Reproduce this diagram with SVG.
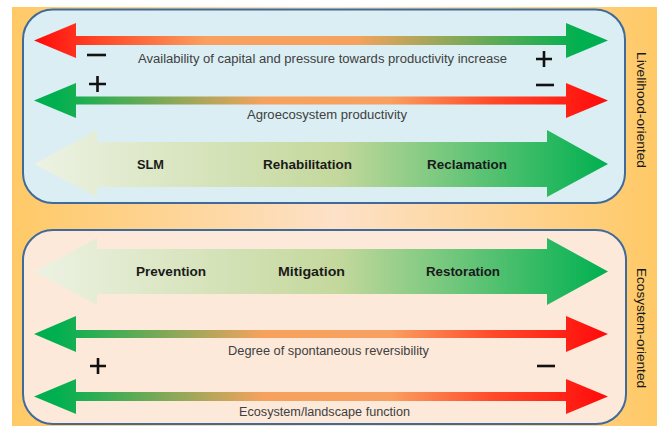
<svg xmlns="http://www.w3.org/2000/svg" width="657" height="426" viewBox="0 0 657 426">
<defs>
<linearGradient id="bg" x1="12" y1="0" x2="657" y2="0" gradientUnits="userSpaceOnUse">
<stop offset="0" stop-color="#FFC966"/>
<stop offset="0.5" stop-color="#FDE1C8"/>
<stop offset="1" stop-color="#FFC966"/>
</linearGradient>
<linearGradient id="rg" x1="34" y1="0" x2="608" y2="0" gradientUnits="userSpaceOnUse">
<stop offset="0" stop-color="#FF0A0A"/>
<stop offset="0.12" stop-color="#FF4A2A"/>
<stop offset="0.3" stop-color="#F9A060"/>
<stop offset="0.56" stop-color="#F6A25E"/>
<stop offset="0.95" stop-color="#00B050"/>
</linearGradient>
<linearGradient id="gr" x1="34" y1="0" x2="608" y2="0" gradientUnits="userSpaceOnUse">
<stop offset="0.04" stop-color="#00B050"/>
<stop offset="0.4" stop-color="#F6A25E"/>
<stop offset="0.62" stop-color="#F9A060"/>
<stop offset="0.8" stop-color="#FF4A2A"/>
<stop offset="1" stop-color="#FF0A0A"/>
</linearGradient>
<linearGradient id="big" x1="34" y1="0" x2="608" y2="0" gradientUnits="userSpaceOnUse">
<stop offset="0" stop-color="#EDF2E3"/>
<stop offset="0.53" stop-color="#C4D89C"/>
<stop offset="1" stop-color="#00B050"/>
</linearGradient>
</defs>
<style>
.panel{stroke:#3F6A99;stroke-width:2}
.lbl{font-family:"Liberation Sans",Arial,sans-serif;font-size:12.5px;fill:#404040}
.bold{font-family:"Liberation Sans",Arial,sans-serif;font-size:13px;font-weight:bold;fill:#1A1A1A}
.side{font-family:"Liberation Sans",Arial,sans-serif;font-size:13px;fill:#1A1A1A}
.sign{stroke:#111;stroke-width:2.6;fill:none}
</style>
<rect x="0" y="0" width="657" height="426" fill="#FFFFFF"/>
<rect x="12" y="7" width="645" height="419" fill="url(#bg)"/>

<g id="panel-livelihood">
<rect class="panel" x="23" y="9.5" width="602" height="193.5" rx="30" fill="#DAEEF3"/>
</g>
<g id="panel-ecosystem">
<rect class="panel" x="23" y="230" width="603" height="194" rx="30" fill="#FDE9D9"/>
</g>

<g id="connectors">
<path id="arrow-capital" d="M34,40.5 L76,23 L76,36 L566,36 L566,23 L608,40.5 L566,58 L566,45 L76,45 L76,58 Z" fill="url(#rg)"/>
<path id="arrow-agro" d="M34,100.5 L76,83 L76,96.5 L566,96.5 L566,83 L608,100.5 L566,118 L566,104.5 L76,104.5 L76,118 Z" fill="url(#gr)"/>
<path id="arrow-slm" d="M34,164 L97,130 L97,142 L547,142 L547,130 L608,164 L547,197 L547,187 L97,187 L97,197 Z" fill="url(#big)"/>
<path id="arrow-prev" d="M34,271.5 L97,238 L97,249 L547,249 L547,238 L608,271.5 L547,305 L547,294 L97,294 L97,305 Z" fill="url(#big)"/>
<path id="arrow-degree" d="M34,334 L76,316 L76,330 L566,330 L566,316 L608,334 L566,352 L566,338 L76,338 L76,352 Z" fill="url(#gr)"/>
<path id="arrow-eco" d="M34,396.5 L76,379 L76,392 L566,392 L566,379 L608,396.5 L566,414 L566,401 L76,401 L76,414 Z" fill="url(#gr)"/>
</g>

<g id="labels">
<text class="lbl" x="138" y="63" textLength="369" lengthAdjust="spacingAndGlyphs">Availability of capital and pressure towards productivity  increase</text>
<text class="lbl" x="247" y="119" textLength="160" lengthAdjust="spacingAndGlyphs">Agroecosystem productivity</text>
<text class="bold" x="137" y="168.5" textLength="27" lengthAdjust="spacingAndGlyphs">SLM</text>
<text class="bold" x="263" y="168.5" textLength="89" lengthAdjust="spacingAndGlyphs">Rehabilitation</text>
<text class="bold" x="427" y="168.5" textLength="80" lengthAdjust="spacingAndGlyphs">Reclamation</text>
<text class="bold" x="136" y="276" textLength="70" lengthAdjust="spacingAndGlyphs">Prevention</text>
<text class="bold" x="278" y="276" textLength="67" lengthAdjust="spacingAndGlyphs">Mitigation</text>
<text class="bold" x="426" y="276" textLength="74" lengthAdjust="spacingAndGlyphs">Restoration</text>
<text class="lbl" x="228" y="355" textLength="201" lengthAdjust="spacingAndGlyphs">Degree of spontaneous reversibility</text>
<text class="lbl" x="239" y="416" textLength="171" lengthAdjust="spacingAndGlyphs">Ecosystem/landscape function</text>
<text class="side" transform="translate(637,110) rotate(90)" text-anchor="middle" textLength="116" lengthAdjust="spacingAndGlyphs">Livelihood-oriented</text>
<text class="side" transform="translate(637,328) rotate(90)" text-anchor="middle" textLength="120" lengthAdjust="spacingAndGlyphs">Ecosystem-oriented</text>
</g>

<g id="signs">
<path class="sign" d="M87,55 H106"/>
<path class="sign" d="M89,84 H106 M97.5,76 V92"/>
<path class="sign" d="M536,59 H552 M544,51 V67"/>
<path class="sign" d="M536,85 H554"/>
<path class="sign" d="M90,366 H106 M98,358 V374"/>
<path class="sign" d="M537,366 H555"/>
</g>
</svg>
